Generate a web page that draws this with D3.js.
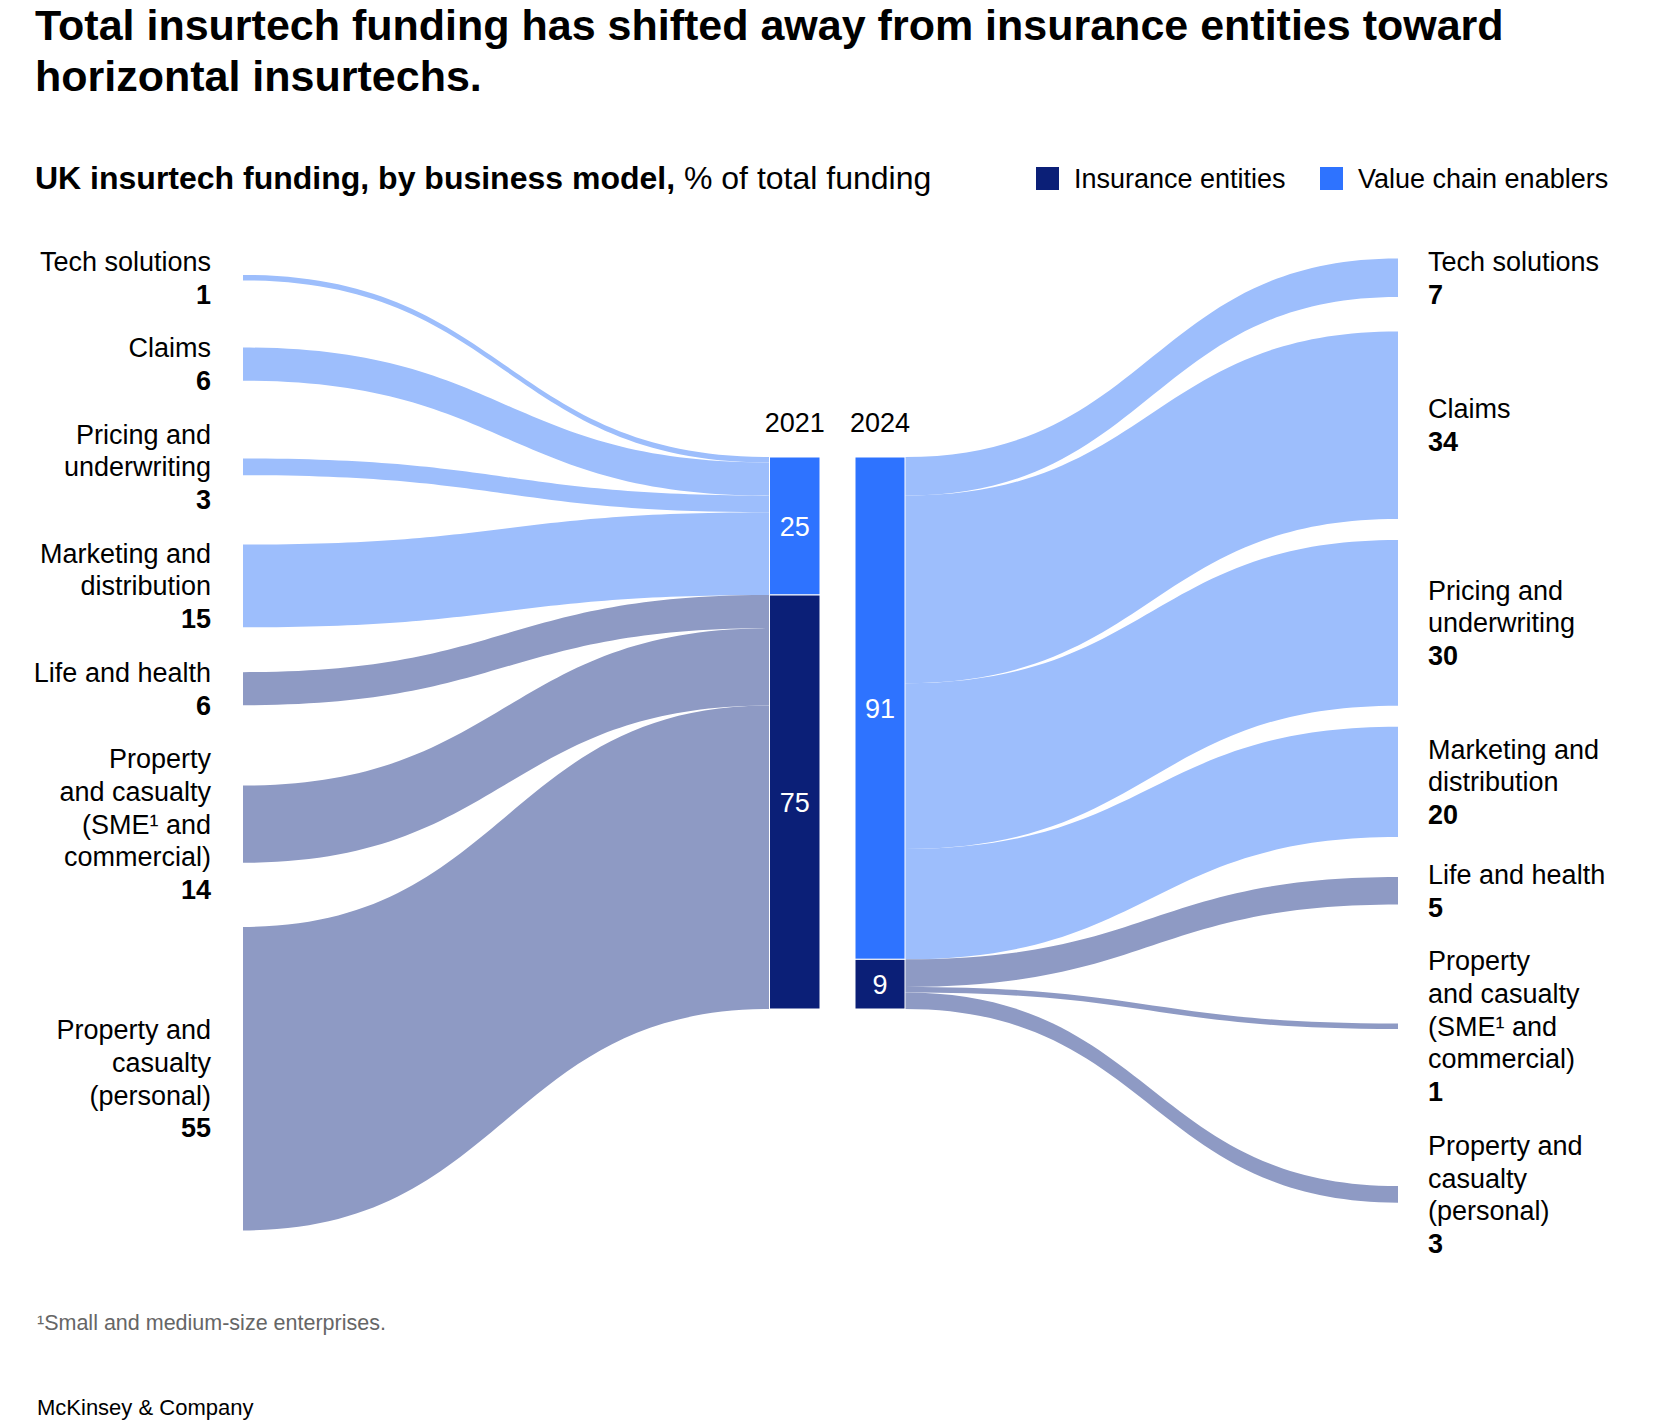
<!DOCTYPE html>
<html>
<head>
<meta charset="utf-8">
<script src="https://cdn.jsdelivr.net/npm/d3@7"></script>
<style>
  body { margin: 0; background: #fff; }
  svg text { font-family: "Liberation Sans", Arial, sans-serif; fill: #000; }
</style>
</head>
<body>
<svg id="chart" width="1655" height="1427"></svg>
<script>
// data
var categories = ["Tech solutions", "Claims", "Pricing and underwriting", "Marketing and distribution",
  "Life and health", "Property and casualty (SME and commercial)", "Property and casualty (personal)"];
var labelLines = [
  ["Tech solutions"],
  ["Claims"],
  ["Pricing and", "underwriting"],
  ["Marketing and", "distribution"],
  ["Life and health"],
  ["Property", "and casualty", "(SME\u00b9 and", "commercial)"],
  ["Property and", "casualty", "(personal)"]
];
var model = ["enabler", "enabler", "enabler", "enabler", "entity", "entity", "entity"];
var share2021 = [1, 6, 3, 15, 6, 14, 55];
var share2024 = [7, 34, 30, 20, 5, 1, 3];
var years = ["2021", "2024"];
var legendItems = ["Insurance entities", "Value chain enablers"];

var colors = { entity: "#0b1f77", enabler: "#2e73ff" };
var linkColors = { entity: "#8e9ac4", enabler: "#9dbefc" };

var svg = d3.select("#chart");

// titles
svg.append("text").attr("x", 35).attr("y", 40)
  .style("font-size", "43px").style("font-weight", "bold")
  .text("Total insurtech funding has shifted away from insurance entities toward");
svg.append("text").attr("x", 35).attr("y", 91)
  .style("font-size", "43px").style("font-weight", "bold")
  .text("horizontal insurtechs.");

var sub = svg.append("text").attr("x", 35).attr("y", 189).style("font-size", "32px");
sub.append("tspan").style("font-weight", "bold").text("UK insurtech funding, by business model,");
sub.append("tspan").text(" % of total funding");

// legend
var legend = svg.append("g").selectAll("g")
  .data(legendItems)
  .join("g")
  .attr("transform", function(d, i) { return "translate(" + [1036, 1320][i] + ",167)"; });
legend.append("rect").attr("width", 23).attr("height", 23)
  .attr("fill", function(d, i) { return i == 0 ? colors.entity : colors.enabler; });
legend.append("text").attr("x", 38).attr("y", 21).style("font-size", "27px").text(function(d) { return d; });

// layout
var y = d3.scaleLinear().domain([0, 100]).range([0, 552]);
var barTop = 457;
var lineH = 32.7;
var colTop = 245, colGap = 21;
var leftX = 243, rightX = 1398;
var bars = [{ x0: 769.5, x1: 820 }, { x0: 855, x1: 905 }];

// nodes for one column: each item takes max(node height, label height)
function column(values) {
  var pos = colTop;
  return values.map(function(v, i) {
    var h = y(v);
    var lh = (labelLines[i].length + 1) * lineH;
    var slot = Math.max(h, lh);
    var mid = pos + slot / 2;
    pos += slot + colGap;
    return { i: i, value: v, y0: mid - h / 2, y1: mid + h / 2, mid: mid, lines: labelLines[i].concat([String(v)]) };
  });
}
var leftNodes = column(share2021);
var rightNodes = column(share2024);

// stacking on the middle bars
function stackBar(values) {
  var acc = 0;
  return values.map(function(v) {
    var s = { y0: barTop + y(acc), y1: barTop + y(acc + v) };
    acc += v;
    return s;
  });
}
var leftEnds = stackBar(share2021);
var rightEnds = stackBar(share2024);

function ribbon(x0, a0, a1, x1, b0, b1) {
  var xm = (x0 + x1) / 2;
  var p = d3.path();
  p.moveTo(x0, a0);
  p.bezierCurveTo(xm, a0, xm, b0, x1, b0);
  p.lineTo(x1, b1);
  p.bezierCurveTo(xm, b1, xm, a1, x0, a1);
  p.closePath();
  return p.toString();
}

var links = svg.append("g");
links.selectAll("path.left")
  .data(leftNodes)
  .join("path")
  .attr("class", "left")
  .attr("fill", function(d) { return linkColors[model[d.i]]; })
  .attr("d", function(d) {
    var e = leftEnds[d.i];
    return ribbon(leftX, d.y0, d.y1, bars[0].x0, e.y0, e.y1);
  });
links.selectAll("path.right")
  .data(rightNodes)
  .join("path")
  .attr("class", "right")
  .attr("fill", function(d) { return linkColors[model[d.i]]; })
  .attr("d", function(d) {
    var e = rightEnds[d.i];
    return ribbon(bars[1].x1, e.y0, e.y1, rightX, d.y0, d.y1);
  });

// middle bars by business model
var totals = years.map(function(yr, k) {
  var vals = k == 0 ? share2021 : share2024;
  var en = d3.sum(vals.filter(function(v, i) { return model[i] == "enabler"; }));
  var ent = d3.sum(vals.filter(function(v, i) { return model[i] == "entity"; }));
  return [{ key: "enabler", v0: 0, v1: en }, { key: "entity", v0: en, v1: en + ent }];
});

var barG = svg.append("g").selectAll("g")
  .data(totals)
  .join("g");
barG.selectAll("rect")
  .data(function(d, k) { return d.map(function(s) { return Object.assign({ k: k }, s); }); })
  .join("rect")
  .attr("x", function(d) { return bars[d.k].x0; })
  .attr("width", function(d) { return bars[d.k].x1 - bars[d.k].x0; })
  .attr("y", function(d) { return barTop + y(d.v0); })
  .attr("height", function(d) { return y(d.v1 - d.v0); })
  .attr("fill", function(d) { return colors[d.key]; })
  .attr("stroke", "#fff")
  .attr("stroke-width", 1);
barG.selectAll("text")
  .data(function(d, k) { return d.map(function(s) { return Object.assign({ k: k }, s); }); })
  .join("text")
  .attr("x", function(d) { return (bars[d.k].x0 + bars[d.k].x1) / 2; })
  .attr("y", function(d) { return barTop + y((d.v0 + d.v1) / 2) + 10; })
  .attr("text-anchor", "middle")
  .style("font-size", "27px")
  .style("fill", "#fff")
  .text(function(d) { return d.v1 - d.v0; });

svg.append("g").selectAll("text")
  .data(years)
  .join("text")
  .attr("x", function(d, k) { return (bars[k].x0 + bars[k].x1) / 2; })
  .attr("y", 432)
  .attr("text-anchor", "middle")
  .style("font-size", "27px")
  .text(function(d) { return d; });

// category labels
function drawLabels(nodes, x, anchor) {
  var g = svg.append("g").selectAll("text")
    .data(nodes)
    .join("text")
    .attr("text-anchor", anchor)
    .style("font-size", "27px");
  g.selectAll("tspan")
    .data(function(d) {
      var top = d.mid - d.lines.length * lineH / 2;
      return d.lines.map(function(t, j) { return { t: t, y: top + j * lineH + lineH / 2 + 9.5, last: j == d.lines.length - 1 }; });
    })
    .join("tspan")
    .attr("x", x)
    .attr("y", function(d) { return d.y; })
    .style("font-weight", function(d) { return d.last ? "bold" : null; })
    .text(function(d) { return d.t; });
}
drawLabels(leftNodes, 211, "end");
drawLabels(rightNodes, 1428, "start");

// footnote and source
svg.append("text").attr("x", 37).attr("y", 1330).style("font-size", "21.5px").style("fill", "#666")
  .text("\u00b9Small and medium-size enterprises.");
svg.append("text").attr("x", 37).attr("y", 1415).style("font-size", "22px")
  .text("McKinsey & Company");
</script>
</body>
</html>
